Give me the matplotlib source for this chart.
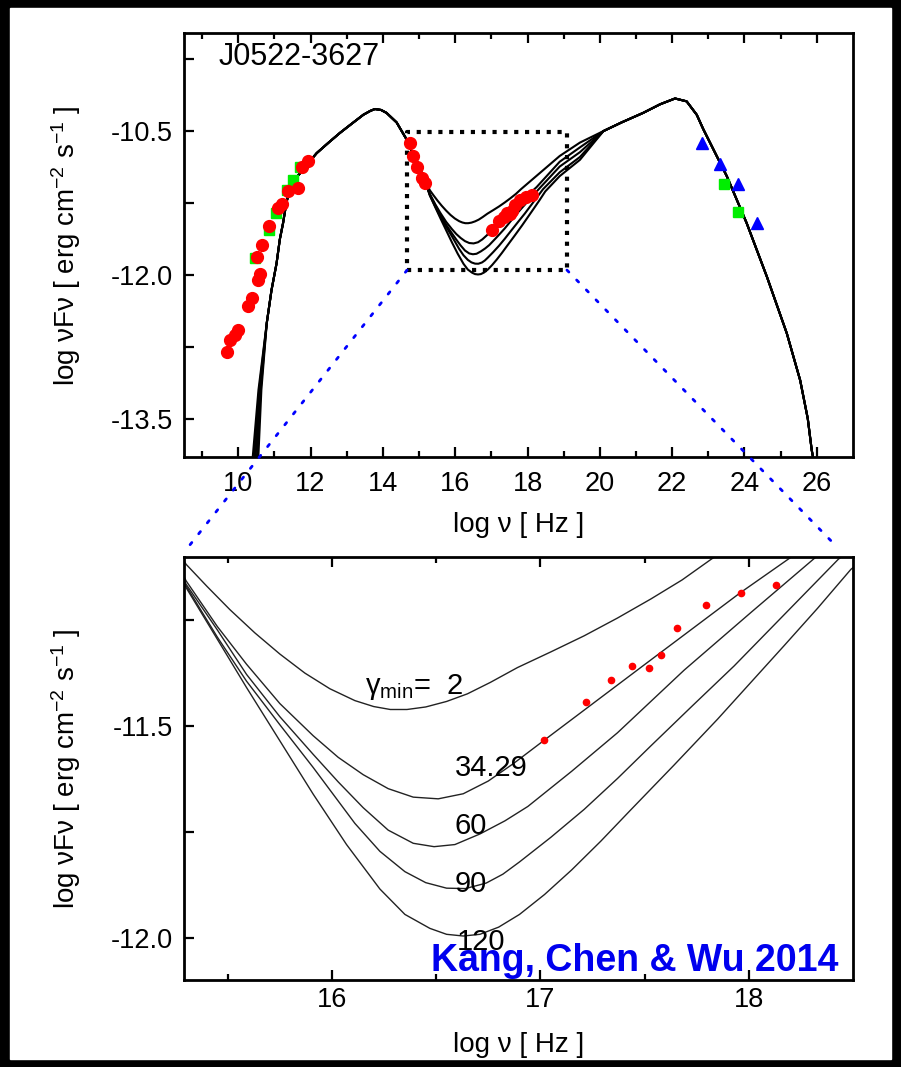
import numpy as np
import matplotlib
matplotlib.use("Agg")
import matplotlib.pyplot as plt
from matplotlib.patches import Rectangle, ConnectionPatch

plt.rcParams.update({"font.family": ["Liberation Sans", "DejaVu Sans"],
                     "mathtext.fontset": "custom",
                     "mathtext.rm": "Liberation Sans",
                     "mathtext.it": "Liberation Sans:italic",
                     "axes.unicode_minus": False})

# ---------------------------------------------------------------- data
# low-frequency tail (slightly different for each gamma_min)
low_y = [-13.95, -13.2]
low_x = [[10.55, 10.64], [10.51, 10.62], [10.47, 10.60], [10.43, 10.58], [10.39, 10.56]]

# shared synchrotron hump
sync_x = [10.79, 10.92, 11.06, 11.15, 11.24, 11.33, 11.43, 11.55, 11.71, 11.90, 12.17,
          12.50, 12.81, 13.15, 13.46, 13.65, 13.78, 13.95, 14.10, 14.38, 14.66, 14.93, 15.12]
sync_y = [-12.50, -12.16, -11.88, -11.63, -11.46, -11.25, -11.10, -11.01, -10.94, -10.85, -10.73,
          -10.62, -10.52, -10.42, -10.33, -10.29, -10.27, -10.28, -10.31, -10.41, -10.59, -10.83, -10.97]

# the dip, one curve per gamma_min
gmin_labels = ["2", "34.29", "60", "90", "120"]
dip_x = [
    [15.30, 15.40, 15.51, 15.63, 15.75, 15.87, 15.99, 16.11, 16.20, 16.28, 16.36, 16.45, 16.55,
     16.65, 16.76, 16.89, 17.05, 17.21, 17.37, 17.53, 17.68, 17.82, 18.89, 19.45],
    [15.30, 15.45, 15.59, 15.75, 15.91, 16.03, 16.15, 16.27, 16.39, 16.51, 16.63, 16.75, 16.87,
     17.02, 17.50, 17.96, 18.25, 18.89, 19.45],
    [15.30, 15.45, 15.59, 15.75, 15.91, 16.03, 16.15, 16.27, 16.39, 16.49, 16.59, 16.71, 16.83,
     16.94, 17.15, 17.37, 17.69, 18.01, 18.31, 18.89, 19.45],
    [15.30, 15.45, 15.59, 15.75, 15.91, 16.11, 16.23, 16.35, 16.45, 16.55, 16.64, 16.74, 16.82,
     16.90, 17.05, 17.21, 17.37, 17.53, 17.73, 17.93, 18.18, 18.43, 18.89, 19.45],
    [15.30, 15.45, 15.59, 15.75, 15.91, 16.07, 16.23, 16.35, 16.47, 16.55, 16.63, 16.71, 16.80,
     16.90, 17.02, 17.15, 17.29, 17.43, 17.64, 17.85, 18.01, 18.17, 18.33, 18.49, 18.89, 19.45],
]
dip_y = [
    [-11.118, -11.170, -11.225, -11.280, -11.330, -11.375, -11.412, -11.440, -11.454, -11.461,
     -11.461, -11.455, -11.442, -11.424, -11.397, -11.362, -11.325, -11.287, -11.245, -11.200,
     -11.155, -11.106, -10.76, -10.62],
    [-11.157, -11.265, -11.354, -11.447, -11.523, -11.574, -11.615, -11.648, -11.668, -11.672,
     -11.660, -11.630, -11.589, -11.533, -11.355, -11.185, -11.085, -10.82, -10.67],
    [-11.165, -11.273, -11.378, -11.478, -11.567, -11.632, -11.693, -11.746, -11.777, -11.785,
     -11.780, -11.755, -11.724, -11.690, -11.607, -11.516, -11.368, -11.232, -11.106, -10.87, -10.72],
    [-11.169, -11.290, -11.394, -11.497, -11.598, -11.730, -11.796, -11.844, -11.870, -11.883,
     -11.884, -11.871, -11.850, -11.821, -11.763, -11.697, -11.624, -11.547, -11.452, -11.358,
     -11.232, -11.106, -10.93, -10.77],
    [-11.173, -11.295, -11.409, -11.535, -11.661, -11.780, -11.885, -11.945, -11.978, -11.992,
     -11.996, -11.992, -11.975, -11.945, -11.898, -11.840, -11.772, -11.700, -11.593, -11.484,
     -11.397, -11.310, -11.222, -11.130, -10.97, -10.80],
]

# shared inverse-Compton hump
ic_x = [20.10, 20.60, 21.20, 21.67, 22.08, 22.40, 22.68, 22.86, 23.51, 24.06, 24.62, 25.17, 25.54, 25.75, 25.86, 25.92]
ic_y = [-10.50, -10.41, -10.31, -10.22, -10.16, -10.19, -10.33, -10.48, -10.97, -11.46, -12.02, -12.61, -13.10, -13.50, -13.83, -13.95]

# observations
radio_x = [9.68, 9.77, 9.91, 10.00, 10.28, 10.37, 10.55, 10.60, 10.51, 10.66, 10.86, 11.11, 11.21, 11.38, 11.66, 11.75, 11.94]
radio_y = [-12.80, -12.68, -12.63, -12.58, -12.33, -12.24, -12.05, -11.99, -11.81, -11.69, -11.49, -11.30, -11.26, -11.13, -11.09, -10.88, -10.81]
green_lo_x = [10.47, 10.86, 11.04, 11.34, 11.52, 11.71]
green_lo_y = [-11.82, -11.53, -11.35, -11.11, -11.01, -10.87]
uv_x = [14.75, 14.84, 14.93, 15.07, 15.16]
uv_y = [-10.62, -10.76, -10.88, -10.99, -11.04]
xray_x = [17.016, 17.221, 17.337, 17.438, 17.522, 17.578, 17.654, 17.796, 17.964, 18.133]
xray_y = [-11.533, -11.443, -11.392, -11.359, -11.364, -11.332, -11.269, -11.214, -11.186, -11.168]
fermi_x = [22.82, 23.32, 23.83, 24.34]
fermi_y = [-10.62, -10.84, -11.05, -11.46]
green_hi_x = [23.42, 23.83]
green_hi_y = [-11.05, -11.34]

# zoom box (top panel)
box_x = [14.67, 19.09]
box_y = [-11.95, -10.51]


def full_curve(i):
    x = [low_x[i][0], low_x[i][1]] + sync_x + dip_x[i] + ic_x
    y = low_y + sync_y + dip_y[i] + ic_y
    return np.array(x), np.array(y)


def style(ax, xmaj, xmin, ymaj, ylab, xpad):
    ax.set_xticks(xmaj)
    ax.set_xticks(xmin, minor=True)
    ax.set_yticks(ymaj)
    ax.set_yticklabels(ylab)
    ax.tick_params(which="both", direction="in", top=True, right=False,
                   labelsize=19.5, width=1.6)
    ax.tick_params(axis="x", pad=xpad)
    ax.tick_params(axis="y", pad=8)
    ax.tick_params(which="major", length=7)
    ax.tick_params(which="minor", length=4)
    for s in ax.spines.values():
        s.set_linewidth(2.0)


fig = plt.figure(figsize=(9.01, 10.67), dpi=100, facecolor="black")
fig.patches.append(Rectangle((10 / 901, 8 / 1067), 881 / 901, 1051 / 1067,
                             transform=fig.transFigure, color="white", zorder=-10))

ylabel = "log νFν [ erg cm$^{-2}$ s$^{-1}$ ]"

# ---------------------------------------------------------------- top panel
ax1 = fig.add_axes([0.2042, 0.5717, 0.7425, 0.3971])
for i in range(5):
    x, y = full_curve(i)
    ax1.plot(x, y, color="black", lw=1.5, zorder=2)
ax1.plot(radio_x, radio_y, "o", color="red", ms=8.5, zorder=4)
ax1.plot(green_lo_x, green_lo_y, "s", color="#00ee00", ms=7, zorder=3)
ax1.plot(uv_x, uv_y, "o", color="red", ms=8.5, zorder=4)
ax1.plot(xray_x, xray_y, "o", color="red", ms=8.5, zorder=4)
ax1.plot(fermi_x, fermi_y, "^", color="blue", ms=9, zorder=4)
ax1.plot(green_hi_x, green_hi_y, "s", color="#00ee00", ms=7, zorder=3)
ax1.plot([box_x[0], box_x[1], box_x[1], box_x[0], box_x[0]],
         [box_y[0], box_y[0], box_y[1], box_y[1], box_y[0]],
         color="black", lw=3, ls=(0, (1, 1.6)), zorder=3)
ax1.set_xlim(8.5, 27.0)
ax1.set_ylim(-13.9, -9.48)
style(ax1, range(10, 27, 2), range(9, 27, 2),
      [-9.75, -10.5, -11.25, -12.0, -12.75, -13.5],
      ["", "-10.5", "", "-12.0", "", "-13.5"], 10)
ax1.text(0.051, 0.943, "J0522-3627", transform=ax1.transAxes, fontsize=22,
         ha="left", va="center")
ax1.set_xlabel("log ν [ Hz ]", fontsize=20, labelpad=11)
ax1.set_ylabel(ylabel, fontsize=20, labelpad=20)

# ---------------------------------------------------------------- bottom panel
ax2 = fig.add_axes([0.2042, 0.0815, 0.7425, 0.3968])
for i in range(5):
    x, y = full_curve(i)
    ax2.plot(x, y, color="#222222", lw=1.0, zorder=2)
ax2.plot(xray_x, xray_y, "o", color="red", ms=4.5, zorder=4)
ax2.set_xlim(15.29, 18.5)
ax2.set_ylim(-12.1, -11.1)
style(ax2, [16, 17, 18], [15.5, 16.5, 17.5],
      [-11.25, -11.5, -11.75, -12.0], ["", "-11.5", "", "-12.0"], 5)

lab_x = [16.16, 16.59, 16.59, 16.59, 16.60]
lab_y = [-11.425, -11.618, -11.756, -11.893, -12.028]
ax2.text(lab_x[0], lab_y[0], "γ$_{\\mathrm{min}}$=  " + gmin_labels[0], fontsize=21,
         ha="left", va="baseline")
for i in range(1, 5):
    ax2.text(lab_x[i], lab_y[i], gmin_labels[i], fontsize=21, ha="left", va="baseline")
ax2.text(0.978, 0.022, "Kang, Chen & Wu 2014", transform=ax2.transAxes, fontsize=27,
         fontweight="bold", color="#0000ee", ha="right", va="baseline", zorder=5)
ax2.set_xlabel("log ν [ Hz ]", fontsize=20, labelpad=14)
ax2.set_ylabel(ylabel, fontsize=20, labelpad=20)

# dotted blue connectors from zoom box to lower panel
for xa, xb in [(box_x[0], 0.009), (box_x[1], 0.973)]:
    con = ConnectionPatch(xyA=(xa, box_y[0]), coordsA=ax1.transData,
                          xyB=(xb, 1.028), coordsB=ax2.transAxes,
                          color="blue", lw=2, ls=(0, (1, 4)))
    fig.add_artist(con)

fig.savefig("out.png", dpi=100, facecolor="black")
